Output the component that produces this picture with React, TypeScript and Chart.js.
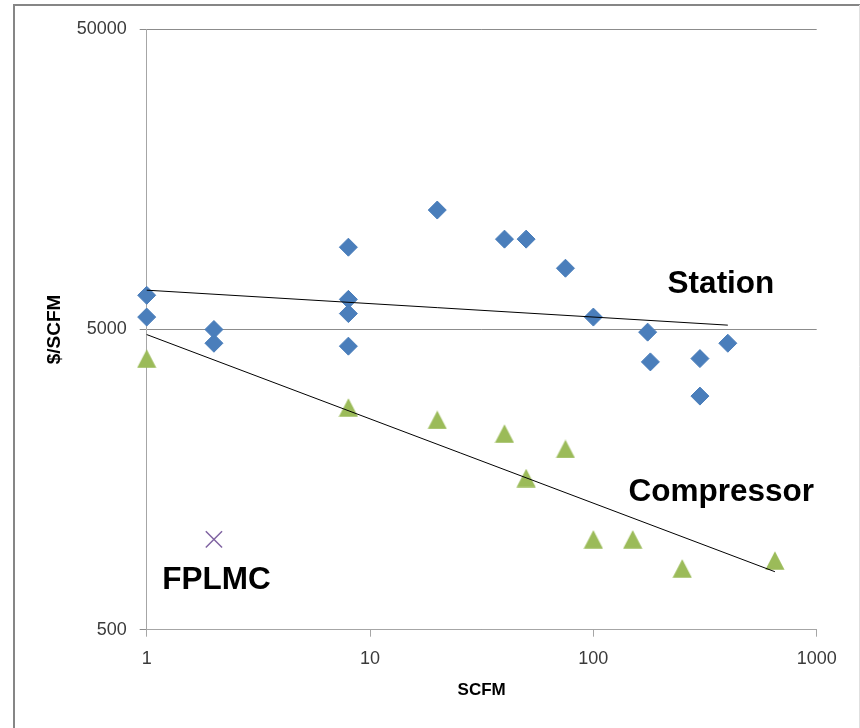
import React, { useEffect, useRef } from "react";
import { Chart, registerables } from "chart.js";

Chart.register(...registerables);

// ---- data ----
const stationX = [1, 1, 2, 2, 8, 8, 8, 8, 20, 40, 50, 75, 100, 175, 180, 300, 300, 400];
const stationY = [6500, 5500, 5000, 4500, 9400, 6300, 5650, 4400, 12500, 10000, 10000, 8000, 5500, 4900, 3900, 4000, 3000, 4500];
const compressorX = [1, 8, 20, 40, 50, 75, 100, 150, 250, 650];
const compressorY = [4000, 2750, 2500, 2250, 1600, 2000, 1000, 1000, 800, 850];
const fplmcX = [2];
const fplmcY = [1000];
const stationTrendX = [1, 400];
const stationTrendY = [6760, 5170];
const compressorTrendX = [1, 650];
const compressorTrendY = [4810, 780];
const xTicks = [1, 10, 100, 1000];
const yTicks = [500, 5000, 50000];
const labelTexts = ["Station", "Compressor", "FPLMC"];
const labelX = [215, 143.5, 1.175];
const labelY = [6600, 1342, 681];

const toPoints = (xs: number[], ys: number[]) => xs.map((x, i) => ({ x, y: ys[i] }));

function makeTriangle(color: string) {
  const c = document.createElement("canvas");
  c.width = 20;
  c.height = 19;
  const g = c.getContext("2d")!;
  g.fillStyle = color;
  g.beginPath();
  g.moveTo(10, 0.3);
  g.lineTo(19.6, 18.7);
  g.lineTo(0.4, 18.7);
  g.closePath();
  g.fill();
  return c;
}

const FONT = "'Liberation Sans', Arial, sans-serif";

export default function App() {
  const ref = useRef<HTMLCanvasElement | null>(null);
  useEffect(() => {
    if (!ref.current) return;
    const tri = makeTriangle("#9BBB59");
    const framePlugin = {
      id: "frame",
      beforeDraw(chart: any) {
        const ctx = chart.ctx;
        ctx.save();
        ctx.fillStyle = "#ffffff";
        ctx.fillRect(0, 0, chart.width, chart.height);
        ctx.strokeStyle = "#868686";
        ctx.lineWidth = 2;
        ctx.beginPath();
        ctx.moveTo(14, 728);
        ctx.lineTo(14, 5);
        ctx.lineTo(860, 5);
        ctx.stroke();
        ctx.strokeStyle = "#e0e0e0";
        ctx.lineWidth = 1;
        ctx.beginPath();
        ctx.moveTo(859.5, 5);
        ctx.lineTo(859.5, 728);
        ctx.stroke();
        ctx.restore();
      },
      afterDatasetsDraw(chart: any) {
        const ctx = chart.ctx;
        const xs = chart.scales.x;
        const ys = chart.scales.y;
        ctx.save();
        ctx.fillStyle = "#000000";
        ctx.font = `bold 31.5px ${FONT}`;
        ctx.textAlign = "left";
        ctx.textBaseline = "alphabetic";
        labelTexts.forEach((t, i) => {
          ctx.fillText(t, xs.getPixelForValue(labelX[i]), ys.getPixelForValue(labelY[i]));
        });
        ctx.restore();
      },
    };
    const chart = new Chart(ref.current, {
      type: "scatter",
      data: {
        datasets: [
          {
            type: "line",
            data: toPoints(stationTrendX, stationTrendY),
            borderColor: "#000000",
            borderWidth: 1,
            pointRadius: 0,
            fill: false,
            clip: false,
            order: 0,
          } as any,
          {
            type: "line",
            data: toPoints(compressorTrendX, compressorTrendY),
            borderColor: "#000000",
            borderWidth: 1,
            pointRadius: 0,
            fill: false,
            clip: false,
            order: 0,
          } as any,
          {
            label: "Station",
            data: toPoints(stationX, stationY),
            pointStyle: "rectRot",
            pointRadius: 9,
            backgroundColor: "#4A7EBB",
            borderColor: "#4A7EBB",
            borderWidth: 1,
            clip: false,
            order: 1,
          },
          {
            label: "Compressor",
            data: toPoints(compressorX, compressorY),
            pointStyle: tri,
            pointRadius: 10,
            backgroundColor: "#9BBB59",
            borderColor: "#9BBB59",
            clip: false,
            order: 1,
          },
          {
            label: "FPLMC",
            data: toPoints(fplmcX, fplmcY),
            pointStyle: "crossRot",
            pointRadius: 11.5,
            backgroundColor: "#8064A2",
            borderColor: "#8064A2",
            borderWidth: 1.5,
            clip: false,
            order: 1,
          },
        ],
      },
      options: {
        responsive: false,
        animation: false,
        events: [],
        layout: { padding: { top: 29.3, right: 43.3, bottom: 0, left: 0 } },
        plugins: { legend: { display: false }, tooltip: { enabled: false } },
        scales: {
          x: {
            type: "logarithmic",
            min: 1,
            max: 1000,
            afterFit: (s: any) => {
              s.height = 98.3;
            },
            afterBuildTicks: (s: any) => {
              s.ticks = xTicks.map((v) => ({ value: v }));
            },
            ticks: {
              callback: (v: any) => String(v),
              color: "#3a3a3a",
              font: { family: FONT, size: 18 },
              padding: 12,
              maxRotation: 0,
              autoSkip: false,
            },
            grid: {
              drawOnChartArea: false,
              drawTicks: true,
              tickLength: 7,
              color: "#a6a6a6",
            },
            border: { display: true, color: "#a6a6a6", width: 1 },
            title: {
              display: true,
              text: "SCFM",
              color: "#000000",
              font: { family: FONT, size: 17, weight: "bold" },
              padding: { top: 0, bottom: 27 },
            },
          },
          y: {
            type: "logarithmic",
            min: 500,
            max: 50000,
            afterFit: (s: any) => {
              s.width = 146.7;
            },
            afterBuildTicks: (s: any) => {
              s.ticks = yTicks.map((v) => ({ value: v }));
            },
            ticks: {
              callback: (v: any) => String(v),
              color: "#3a3a3a",
              font: { family: FONT, size: 18 },
              padding: 13,
              autoSkip: false,
            },
            grid: {
              drawOnChartArea: true,
              drawTicks: true,
              tickLength: 7,
              color: "#8c8c8c",
            },
            border: { display: true, color: "#a6a6a6", width: 1 },
            title: {
              display: true,
              text: "$/SCFM",
              color: "#000000",
              font: { family: FONT, size: 19, weight: "bold" },
              padding: { top: 43, bottom: 0 },
            },
          },
        },
      } as any,
      plugins: [framePlugin],
    });
    return () => chart.destroy();
  }, []);
  return (
    <div style={{ position: "absolute", left: 0, top: 0, width: 860, height: 728 }}>
      <canvas ref={ref} width={860} height={728} style={{ display: "block" }} />
    </div>
  );
}
